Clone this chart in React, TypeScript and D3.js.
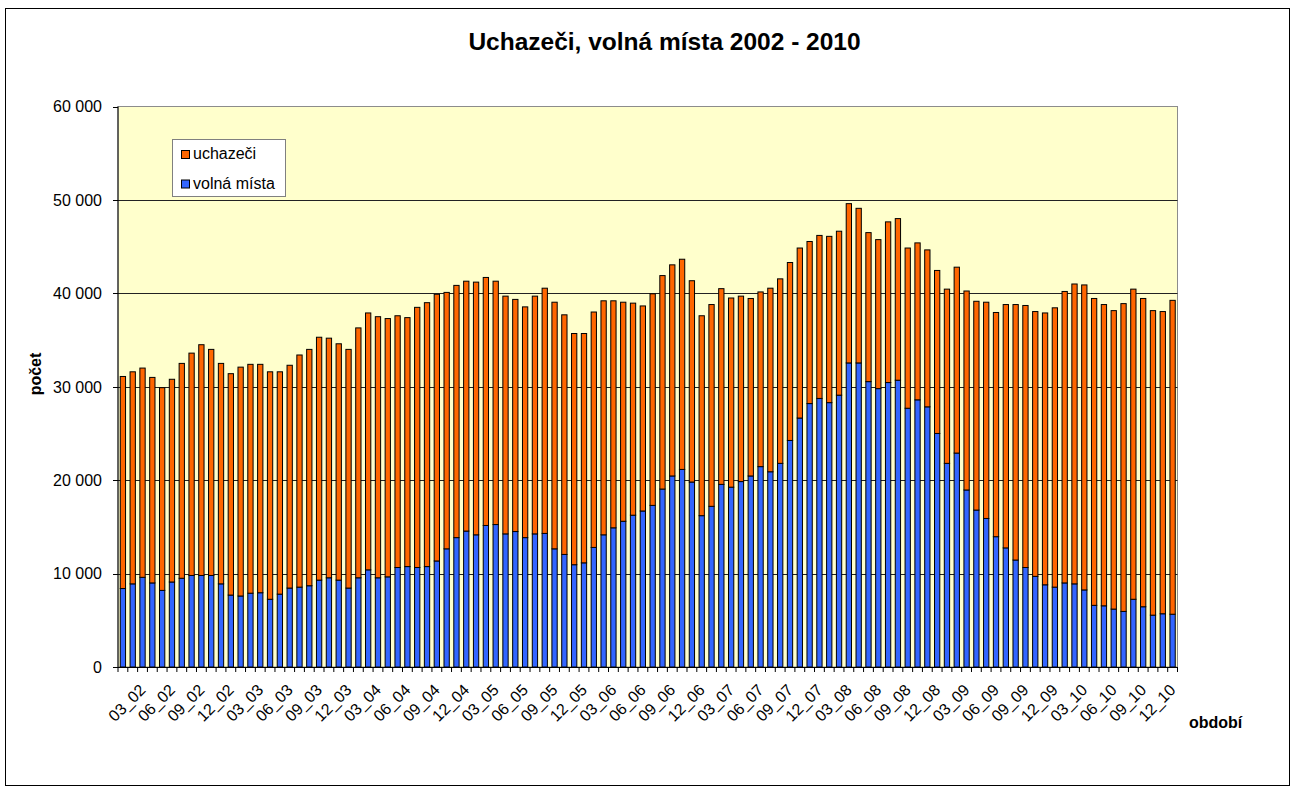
import React, { useRef, useEffect } from "react";
import * as d3 from "d3";

const W = 1296;
const H = 793;

// období: měsíc_rok, 01_02 .. 12_10
const years = ["02", "03", "04", "05", "06", "07", "08", "09", "10"];
const months = ["01", "02", "03", "04", "05", "06", "07", "08", "09", "10", "11", "12"];
const labeledMonths = ["03", "06", "09", "12"];
const categories = years.flatMap((y) => months.map((m) => `${m}_${y}`));

// volná místa (spodní, modrá část)
const volnaMista = [
  8400, 8900, 9600, 9000, 8200, 9100, 9500, 9800, 9800, 9800, 8900, 7700,
  7600, 7900, 7950, 7250, 7800, 8450, 8550, 8700, 9300, 9550, 9300, 8450,
  9550, 10400, 9550, 9650, 10650, 10750, 10650, 10750, 11350, 12650, 13850, 14550,
  14150, 15150, 15250, 14250, 14500, 13850, 14250, 14300, 12650, 12050, 10950, 11150,
  12800, 14150, 14900, 15600, 16250, 16700, 17300, 19050, 20450, 21150, 19800, 16200,
  17200, 19550, 19250, 19850, 20450, 21450, 20900, 21800, 24250, 26650, 28200, 28750,
  28300, 29100, 32550, 32550, 30550, 29800, 30450, 30700, 27700, 28600, 27850, 25000,
  21800, 22900, 18950, 16800, 15900, 13950, 12750, 11450, 10650, 9700, 8800, 8550,
  9000, 8900, 8250, 6600, 6550, 6200, 5950, 7250, 6450, 5550, 5700, 5650,
];

// uchazeči (horní, oranžová část)
const uchazeci = [
  22700, 22700, 22400, 22000, 21700, 21700, 23000, 23800, 24700, 24200, 23600, 23700,
  24500, 24500, 24450, 24350, 23800, 23850, 24850, 25300, 26000, 25650, 25300, 25550,
  26750, 27500, 27950, 27650, 26950, 26650, 27850, 28250, 28550, 27450, 27000, 26750,
  27050, 26550, 26050, 25450, 24850, 24700, 25450, 26250, 26400, 25650, 24750, 24550,
  25200, 25050, 24300, 23450, 22700, 21950, 22650, 22850, 22600, 22500, 21550, 21400,
  21600, 20950, 20250, 19850, 19000, 18700, 19650, 19750, 19050, 18200, 17350, 17450,
  17800, 17550, 17050, 16550, 15950, 15950, 17200, 17300, 17150, 16800, 16800, 17450,
  18650, 19900, 21300, 22350, 23150, 24000, 26050, 27350, 28050, 28350, 29100, 29900,
  31200, 32100, 32650, 32850, 32250, 31950, 32950, 33200, 33000, 32600, 32350, 33600,
];

const yTicks = [0, 10000, 20000, 30000, 40000, 50000, 60000];

const seriesNames = ["uchazeči", "volná místa"];
const seriesColors = ["#FF6600", "#3366FF"];

const czFormat = d3.formatLocale({
  decimal: ",",
  thousands: "\u00a0",
  grouping: [3],
  currency: ["", " Kč"],
}).format(",");

export default function App() {
  const svgRef = useRef<SVGSVGElement>(null);

  useEffect(() => {
    const svg = d3.select(svgRef.current);
    svg.selectAll("*").remove();

    const font = "'Liberation Sans', Arial, sans-serif";
    const left = 118, right = 1177.5, top = 106.5, bottom = 667;

    // outer chart border
    svg.append("rect")
      .attr("x", 5.5).attr("y", 8.5)
      .attr("width", 1284).attr("height", 777)
      .attr("fill", "#fff").attr("stroke", "#000").attr("stroke-width", 1);

    svg.append("text")
      .attr("x", 664.5).attr("y", 50)
      .attr("text-anchor", "middle")
      .attr("font-family", font).attr("font-size", 24.5).attr("font-weight", 700)
      .text("Uchazeči, volná místa 2002 - 2010");

    const x = d3.scaleBand<string>()
      .domain(categories)
      .range([left, right])
      .paddingInner(0.46)
      .paddingOuter(0.23);

    const y = d3.scaleLinear().domain([0, 60000]).range([bottom, top]);

    // plot area
    svg.append("rect")
      .attr("x", left).attr("y", top)
      .attr("width", right - left).attr("height", bottom - top)
      .attr("fill", "#FFFFCC").attr("stroke", "#8c8c8c");

    svg.append("g")
      .selectAll("line")
      .data(yTicks.filter((t) => t > 0 && t < 60000))
      .join("line")
      .attr("x1", left).attr("x2", right)
      .attr("y1", (d) => Math.round(y(d)) + 0.5).attr("y2", (d) => Math.round(y(d)) + 0.5)
      .attr("stroke", "#222");

    // stacked bars
    const rows = categories.map((c, i) => ({ cat: c, volna: volnaMista[i], uch: uchazeci[i] }));
    const stack = d3.stack<any>().keys(["volna", "uch"]);
    const layers = stack(rows);
    const colorByKey: Record<string, string> = { volna: seriesColors[1], uch: seriesColors[0] };

    svg.append("g")
      .selectAll("g")
      .data(layers)
      .join("g")
      .attr("fill", (d) => colorByKey[d.key])
      .selectAll("rect")
      .data((d) => d)
      .join("rect")
      .attr("x", (d: any) => x(d.data.cat)!)
      .attr("y", (d) => y(d[1]))
      .attr("width", x.bandwidth())
      .attr("height", (d) => y(d[0]) - y(d[1]))
      .attr("stroke", "#000")
      .attr("stroke-width", 1);

    // axes
    const axisG = svg.append("g").attr("stroke", "#000");
    axisG.append("line")
      .attr("x1", left).attr("x2", left).attr("y1", top).attr("y2", bottom);
    axisG.append("line")
      .attr("x1", left).attr("x2", right).attr("y1", bottom + 0.5).attr("y2", bottom + 0.5);

    svg.append("g")
      .selectAll("line")
      .data(yTicks)
      .join("line")
      .attr("x1", left - 5).attr("x2", left)
      .attr("y1", (d) => Math.round(y(d)) + 0.5).attr("y2", (d) => Math.round(y(d)) + 0.5)
      .attr("stroke", "#000");

    svg.append("g")
      .selectAll("text")
      .data(yTicks)
      .join("text")
      .attr("x", 102)
      .attr("y", (d) => y(d))
      .attr("dy", "0.36em")
      .attr("text-anchor", "end")
      .attr("font-family", font).attr("font-size", 16)
      .text((d) => czFormat(d));

    // category boundary ticks
    const step = x.step();
    const boundaries = d3.range(categories.length + 1).map((i) => left + i * step);
    svg.append("g")
      .selectAll("line")
      .data(boundaries)
      .join("line")
      .attr("x1", (d) => d).attr("x2", (d) => d)
      .attr("y1", bottom).attr("y2", bottom + 5)
      .attr("stroke", "#000");

    svg.append("g")
      .selectAll("text")
      .data(categories.filter((c) => labeledMonths.includes(c.slice(0, 2))))
      .join("text")
      .attr("transform", (d) => `translate(${x(d)! + x.bandwidth() / 2 - 4},${683}) rotate(-45)`)
      .attr("dy", "0.71em")
      .attr("text-anchor", "end")
      .attr("font-family", font).attr("font-size", 16)
      .text((d) => d);

    // axis titles
    svg.append("text")
      .attr("transform", "translate(41,374) rotate(-90)")
      .attr("text-anchor", "middle")
      .attr("font-family", font).attr("font-size", 16).attr("font-weight", 700)
      .text("počet");

    svg.append("text")
      .attr("x", 1189).attr("y", 728)
      .attr("font-family", font).attr("font-size", 16).attr("font-weight", 700)
      .text("období");

    // legend
    const lg = svg.append("g");
    lg.append("rect")
      .attr("x", 172.5).attr("y", 139.5)
      .attr("width", 113).attr("height", 57)
      .attr("fill", "#fff").attr("stroke", "#808080");
    const items = lg.selectAll("g")
      .data(seriesNames)
      .join("g")
      .attr("transform", (_, i) => `translate(0,${i * 29.5})`);
    items.append("rect")
      .attr("x", 181.5).attr("y", 150.5)
      .attr("width", 8).attr("height", 8)
      .attr("fill", (_, i) => seriesColors[i])
      .attr("stroke", "#000");
    items.append("text")
      .attr("x", 193).attr("y", 159)
      .attr("font-family", font).attr("font-size", 16)
      .text((d) => d);
  }, []);

  return (
    <svg
      ref={svgRef}
      width={W}
      height={H}
      viewBox={`0 0 ${W} ${H}`}
      style={{ position: "absolute", left: 0, top: 0, display: "block", background: "#fff" }}
    />
  );
}
